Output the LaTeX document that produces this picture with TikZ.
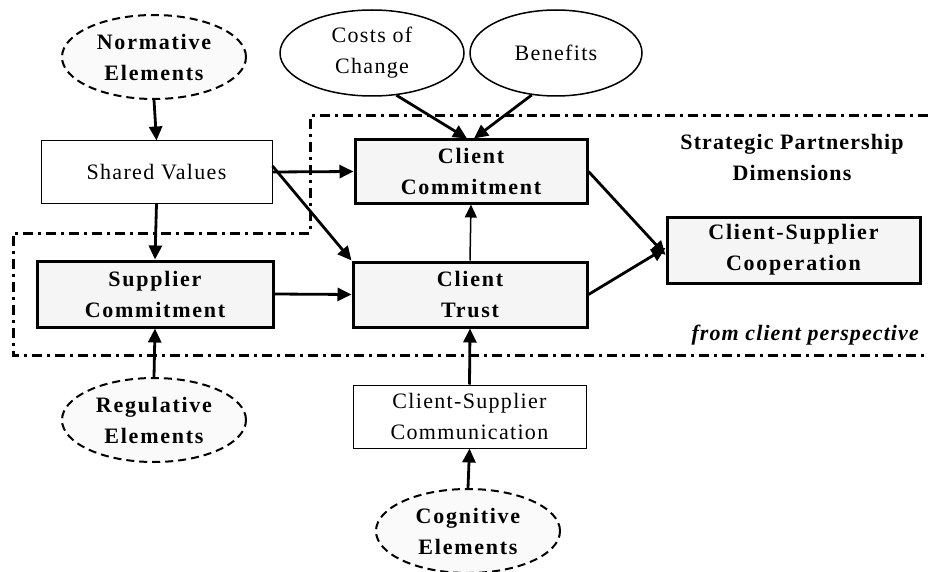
\documentclass[tikz,border=0pt]{standalone}
\usepackage{fontspec}
\setmainfont{Liberation Serif}
\usetikzlibrary{arrows.meta,shapes.geometric}
\begin{document}
\begin{tikzpicture}[x=1pt,y=-1pt,
  every node/.style={font=\fontsize{22}{31}\selectfont\addfontfeature{LetterSpace=6}, align=center, inner sep=0pt},
  boldbox/.style={draw, line width=3pt, fill=gray!8, minimum width=#1, font=\fontsize{22}{31}\selectfont\bfseries\addfontfeature{LetterSpace=8}},
  thinbox/.style={draw, line width=1pt, fill=white},
  dashell/.style={ellipse, draw, dashed, dash pattern=on 8pt off 5pt, line width=2pt, fill=gray!4, minimum width=184pt, minimum height=84pt, font=\fontsize{22}{31}\selectfont\bfseries\addfontfeature{LetterSpace=8}},
  solidell/.style={ellipse, draw, line width=1.5pt, fill=white, minimum height=86pt},
  arr/.style={-{Triangle[length=14pt,width=13pt]}, line width=2.8pt},
  thinarr/.style={-{Triangle[length=13pt,width=12pt]}, line width=1.5pt},
  region/.style={line width=3pt, dash pattern=on 10pt off 5pt on 3pt off 5pt}
]
\useasboundingbox (0,0) rectangle (928,572);
% region border
\draw[region] (928,116) -- (310,116) -- (310,233) -- (13,233) -- (13,355) -- (928,355);
% nodes
\node[dashell] (norm) at (154,57) {Normative\\Elements};
\node[solidell, minimum width=184pt] (costs) at (372,53) {Costs of\\Change};
\node[solidell, minimum width=172pt] (ben) at (556,53) {Benefits};
\node[thinbox, minimum width=231pt, minimum height=62pt] (shared) at (156.5,172) {Shared Values};
\node[boldbox=232pt, minimum height=63pt] (ccom) at (471,171.5) {Client\\Commitment};
\node[boldbox=234pt, minimum height=65pt] (trust) at (470,294.5) {Client\\Trust};
\node[boldbox=236pt, minimum height=66pt] (scom) at (155,294) {Supplier\\Commitment};
\node[boldbox=253pt, minimum height=66pt] (coop) at (793.5,250) {Client-Supplier\\Cooperation};
\node[thinbox, minimum width=233pt, minimum height=63pt] (comm) at (469.5,416.5) {Client-Supplier\\Communication};
\node[dashell] (reg) at (154,420) {Regulative\\Elements};
\node[dashell] (cog) at (468,531) {Cognitive\\Elements};
\node[font=\fontsize{22}{31}\selectfont\bfseries\addfontfeature{LetterSpace=5}] (spd) at (792,157) {Strategic Partnership\\Dimensions};
\node[font=\fontsize{22}{31}\selectfont\bfseries\itshape\addfontfeature{LetterSpace=5}, anchor=east] (fcp) at (919,335) {from client perspective};
% connectors
\draw[arr] (norm.south) -- (shared.north);
\draw[arr] (shared.south) -- (scom.north);
\draw[arr] (shared.east) -- (ccom.west);
\draw[arr] ([yshift=6pt]shared.east) -- (trust.north west);
\draw[arr] (costs.-60) -- ([xshift=-4pt]ccom.north);
\draw[arr] (ben.-120) -- ([xshift=3pt]ccom.north);
\draw[thinarr] (trust.north) -- (ccom.south);
\draw[arr] (scom.east) -- (trust.west);
\draw[arr] (ccom.east) -- ([yshift=-5pt]coop.west);
\draw[arr] (trust.east) -- ([yshift=2pt]coop.west);
\draw[arr] (comm.north) -- (trust.south);
\draw[arr] (cog.north) -- (comm.south);
\draw[arr] (reg.north) -- (scom.south);
\end{tikzpicture}
\end{document}
